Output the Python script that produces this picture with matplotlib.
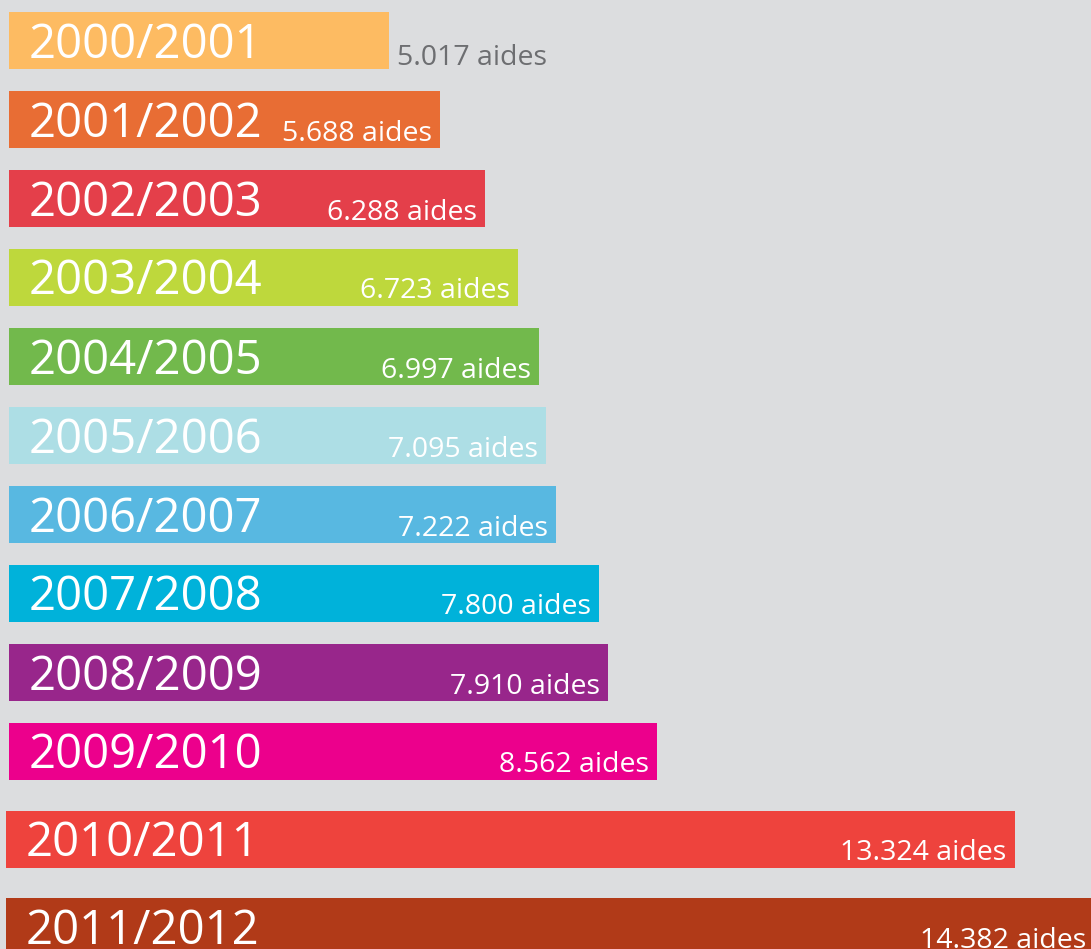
import matplotlib
matplotlib.use("Agg")
import matplotlib.pyplot as plt

# data
seasons = ["2000/2001", "2001/2002", "2002/2003", "2003/2004", "2004/2005", "2005/2006",
           "2006/2007", "2007/2008", "2008/2009", "2009/2010", "2010/2011", "2011/2012"]
aides = [5017, 5688, 6288, 6723, 6997, 7095, 7222, 7800, 7910, 8562, 13324, 14382]
value_labels = ["5.017 aides", "5.688 aides", "6.288 aides", "6.723 aides", "6.997 aides",
                "7.095 aides", "7.222 aides", "7.800 aides", "7.910 aides", "8.562 aides",
                "13.324 aides", "14.382 aides"]
colors = ["#FDBB62", "#E86D34", "#E43F4A", "#BED83C", "#72B94C", "#ADDEE5",
          "#58B8E1", "#00B2DA", "#98268B", "#EC008C", "#EE433D", "#B13A18"]

bg = "#DCDDDF"
W, H = 1091, 949
px_per_unit = 0.0757
left_px = 9

fig = plt.figure(figsize=(W / 100, H / 100), dpi=100)
fig.patch.set_facecolor(bg)
ax = fig.add_axes([0, 0, 1, 1])
ax.set_facecolor(bg)

# bar centres in pixel rows, last two rows a bit more spaced and shifted left
ys = []
lefts = []
for i in range(len(seasons)):
    y = 40 + i * 79
    if i >= 10:
        y += 9 + (i - 10) * 8
    ys.append(y)
    lefts.append(-3 / px_per_unit if i >= 10 else 0)
bar_h = 57

ax.barh(ys, aides, height=bar_h, color=colors, left=lefts)

for i, (y, v) in enumerate(zip(ys, aides)):
    bottom = y + bar_h / 2
    end = lefts[i] + v
    ax.annotate(seasons[i], xy=(lefts[i], bottom), xytext=(20, 11), textcoords="offset pixels",
                ha="left", va="baseline", color="white", fontsize=34, family="Open Sans",
                annotation_clip=False)
    if i == 0:
        ax.annotate(value_labels[i], xy=(end, bottom), xytext=(8, 4), textcoords="offset pixels",
                    ha="left", va="baseline", color="#6D6E71", fontsize=20.5, family="Open Sans",
                    annotation_clip=False)
    else:
        ax.annotate(value_labels[i], xy=(end, bottom), xytext=(-8, 7), textcoords="offset pixels",
                    ha="right", va="baseline", color="white", fontsize=20.5, family="Open Sans",
                    annotation_clip=False)

ax.set_xlim(-left_px / px_per_unit, (W - left_px) / px_per_unit)
ax.set_ylim(H, 0)
ax.axis("off")

fig.savefig("out.png", dpi=100, facecolor=bg)
